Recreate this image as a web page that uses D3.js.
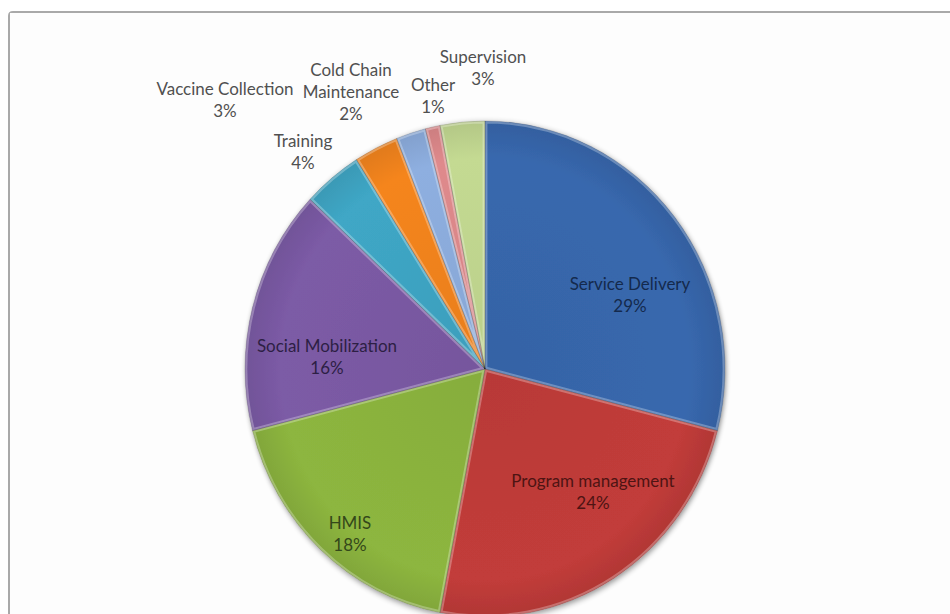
<!DOCTYPE html>
<html>
<head>
<meta charset="utf-8">
<script src="https://cdn.jsdelivr.net/npm/d3@7"></script>
<style>
  html, body { margin: 0; padding: 0; background: #ffffff; }
  svg { display: block; }
</style>
</head>
<body>
<svg id="chart" width="950" height="614"></svg>
<script>
// ---- data ----
const categories = ["Service Delivery", "Program management", "HMIS", "Social Mobilization",
  "Training", "Vaccine Collection", "Cold Chain Maintenance", "Other", "Supervision"];
const values = [29, 24, 18, 16, 4, 3, 2, 1, 3];
const labelLines = [["Service Delivery"], ["Program management"], ["HMIS"], ["Social Mobilization"],
  ["Training"], ["Vaccine Collection"], ["Cold Chain", "Maintenance"], ["Other"], ["Supervision"]];
const percentLabels = ["29%", "24%", "18%", "16%", "4%", "3%", "2%", "1%", "3%"];

// ---- styling / layout ----
const colors = ["#3868ae", "#c23c3a", "#8db63f", "#7c5ba6", "#3fa7c6", "#f5851f", "#8eafe0", "#df8a8c", "#c4da92"];
const textColors = ["#142a4d", "#4e1413", "#34481a", "#2d1f44", "#505050", "#505050", "#505050", "#505050", "#505050"];
// label block centre offsets relative to pie centre (px)
const labelOffsets = [[145, -75], [108, 122], [-135, 164], [-158, -13], [-182, -218], [-260, -270], [-134, -278], [-52, -274], [-2, -302]];

const W = 950, H = 614;
const cx = 485, cy = 369, rx = 240, ry = 248;

const svg = d3.select("#chart");
const defs = svg.append("defs");

// soft drop shadow
const f = defs.append("filter").attr("id", "shadow").attr("x", "-10%").attr("y", "-10%").attr("width", "120%").attr("height", "120%");
f.append("feGaussianBlur").attr("in", "SourceAlpha").attr("stdDeviation", 3).attr("result", "b");
f.append("feOffset").attr("in", "b").attr("dx", 1).attr("dy", 2).attr("result", "o");
f.append("feComponentTransfer").attr("in", "o").attr("result", "s")
  .append("feFuncA").attr("type", "linear").attr("slope", 0.45);
const fm = f.append("feMerge");
fm.append("feMergeNode").attr("in", "s");
fm.append("feMergeNode").attr("in", "SourceGraphic");

// frame
svg.append("rect").attr("x", 0).attr("y", 0).attr("width", W).attr("height", H).attr("fill", "#ffffff");
svg.append("path")
  .attr("d", `M9,${H + 5} L9,16 Q9,12 13,12 L${W + 5},12`)
  .attr("fill", "none").attr("stroke", "#a9a9a9").attr("stroke-width", 2);
svg.append("rect").attr("x", 10).attr("y", 13).attr("width", W).attr("height", H)
  .attr("fill", "#fdfdfd");

// pie
const pie = d3.pie().sort(null).value(d => d)(values);
const R = ry;
const arc = d3.arc().innerRadius(0).outerRadius(R);

const g = svg.append("g")
  .attr("transform", `translate(${cx},${cy}) scale(${rx / ry},1)`);

const pieG = g.append("g").attr("filter", "url(#shadow)");

pie.forEach((d, i) => {
  defs.append("clipPath").attr("id", "clip" + i)
    .append("path").attr("d", arc(d));
  // radial gradient for subtle shading
  const c = d3.color(colors[i]);
  const rg = defs.append("radialGradient").attr("id", "grad" + i)
    .attr("gradientUnits", "userSpaceOnUse").attr("cx", 0).attr("cy", 0).attr("r", R);
  rg.append("stop").attr("offset", "0%").attr("stop-color", c.darker(0.15));
  rg.append("stop").attr("offset", "85%").attr("stop-color", c);
  rg.append("stop").attr("offset", "100%").attr("stop-color", c.darker(0.25));
});

pieG.selectAll("path.slice")
  .data(pie)
  .join("path")
  .attr("class", "slice")
  .attr("d", arc)
  .attr("fill", (d, i) => `url(#grad${i})`);

// bevel highlight inside each slice
g.selectAll("path.bevel")
  .data(pie)
  .join("path")
  .attr("class", "bevel")
  .attr("d", arc)
  .attr("clip-path", (d, i) => `url(#clip${i})`)
  .attr("fill", "none")
  .attr("stroke", "#ffffff")
  .attr("stroke-opacity", 0.28)
  .attr("stroke-width", 5);

g.selectAll("path.edge")
  .data(pie)
  .join("path")
  .attr("class", "edge")
  .attr("d", arc)
  .attr("fill", "none")
  .attr("stroke", "#000000")
  .attr("stroke-opacity", 0.18)
  .attr("stroke-width", 0.8);

// labels
const fontFamily = "Lato, 'Open Sans', 'Liberation Sans', sans-serif";
// fit font size so "Vaccine Collection" spans ~137px as in reference
const probe = svg.append("text").attr("font-family", fontFamily).attr("font-size", 100).text("Vaccine Collection");
const probeW = probe.node().getComputedTextLength();
probe.remove();
const fontSize = Math.min(19, 100 * 137 / probeW);
const lineH = 22;

const labels = svg.append("g").attr("font-family", fontFamily).attr("font-size", fontSize)
  .attr("text-anchor", "middle");

pie.forEach((d, i) => {
  const lines = labelLines[i].concat([percentLabels[i]]);
  const [ox, oy] = labelOffsets[i];
  const t = labels.append("text")
    .attr("fill", textColors[i])
    .attr("x", cx + ox)
    .attr("y", cy + oy - (lines.length - 1) * lineH / 2)
    .attr("dominant-baseline", "central");
  lines.forEach((ln, k) => {
    t.append("tspan").attr("x", cx + ox).attr("dy", k === 0 ? 0 : lineH).text(ln);
  });
});
</script>
</body>
</html>
